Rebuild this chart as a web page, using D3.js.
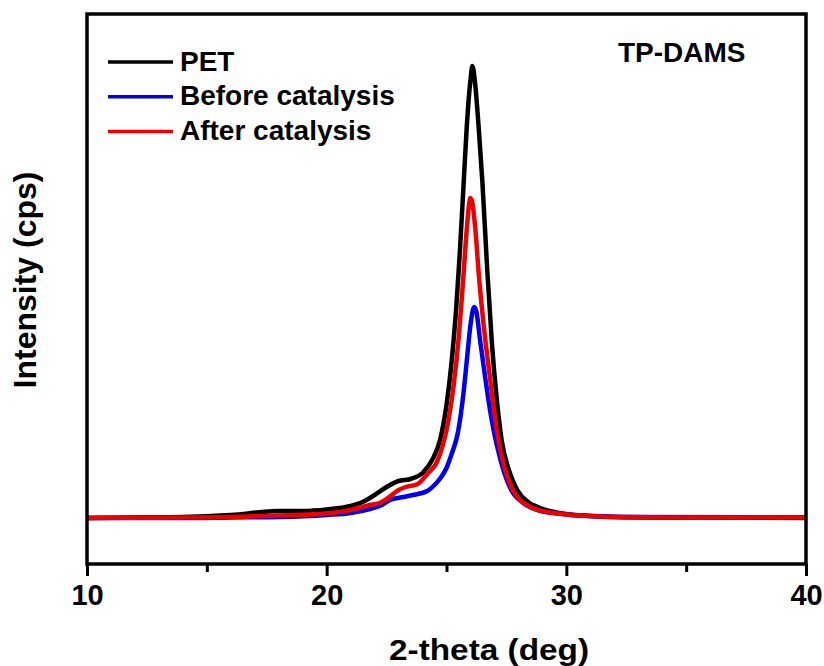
<!doctype html>
<html>
<head>
    <meta charset="utf-8">
    <title>TP-DAMS XRD</title>
    <script src="https://cdnjs.cloudflare.com/ajax/libs/d3/7.8.5/d3.min.js"></script>
    <style>
        body { margin: 0; background: #fff; }
        svg text { font-family: "Liberation Sans", Arial, sans-serif; font-weight: bold; fill: #000; }
    </style>
</head>
<body>
<svg width="824" height="666"></svg>
<script>
    // 2-theta positions and intensities (arbitrary cps)
    let petTheta = [10, 12, 14, 16, 18, 19, 20, 21, 21.5, 22, 22.5, 23, 23.5, 24, 24.4, 24.73, 25.0, 25.2, 25.4, 25.55, 25.7, 25.85, 26.0, 26.08, 26.2, 26.35, 26.5, 26.7, 26.9, 27.1, 27.3, 27.6, 27.95, 28.4, 28.8, 29.5, 30, 31, 32, 34, 40];
    let petVals  = [92, 93, 94, 98, 106, 106, 109, 116, 124, 138, 154, 166, 170, 182, 208, 248, 318, 398, 508, 618, 748, 878, 968, 996, 958, 868, 762, 588, 438, 328, 248, 188, 148, 124, 114, 104, 100, 96, 94, 93, 92];

    let beforeTheta = [10, 14, 16, 18, 20, 21, 21.8, 22.3, 22.64, 23.2, 23.6, 24.2, 24.5, 24.75, 25.0, 25.2, 25.48, 25.7, 25.85, 26.0, 26.1, 26.16, 26.25, 26.4, 26.6, 26.85, 27.1, 27.4, 27.7, 28.2, 28.8, 29.5, 30, 31, 33, 40];
    let beforeVals  = [92, 92, 93, 94, 98, 102, 110, 118, 128, 134, 138, 146, 158, 172, 192, 218, 264, 338, 408, 478, 508, 514, 504, 448, 378, 298, 238, 184, 148, 122, 108, 102, 99, 96, 94, 93];

    let afterTheta = [10, 14, 16, 18, 20, 21, 21.8, 22.2, 22.5, 23, 23.3, 23.8, 24.2, 24.6, 24.85, 25.1, 25.3, 25.5, 25.7, 25.85, 25.95, 26.0, 26.08, 26.2, 26.35, 26.55, 26.8, 27.1, 27.45, 27.77, 28.5, 29, 30, 31, 32, 35, 40];
    let afterVals  = [92, 93, 94, 97, 101, 108, 118, 122, 130, 148, 154, 160, 180, 204, 238, 292, 358, 448, 572, 672, 722, 732, 722, 672, 578, 478, 378, 268, 188, 148, 114, 106, 99, 96, 94, 93, 93];

    let seriesNames  = ["PET", "Before catalysis", "After catalysis"];
    let seriesColors = ["#000000", "#0000ee", "#ee0000"];
    let majorTicks = [10, 20, 30, 40];
    let minorTicks = [15, 25, 35];

    let series = [
        {name: seriesNames[0], color: seriesColors[0], theta: petTheta, vals: petVals},
        {name: seriesNames[1], color: seriesColors[1], theta: beforeTheta, vals: beforeVals},
        {name: seriesNames[2], color: seriesColors[2], theta: afterTheta, vals: afterVals}
    ];

    let svg = d3.select("svg");
    let plotLeft = 87, plotRight = 806, plotTop = 14, plotBottom = 564;

    let x = d3.scaleLinear().domain([10, 40]).range([plotLeft, plotRight]);
    let y = d3.scaleLinear().domain([0, 1100]).range([plotBottom, plotTop]);

    let line = d3.line()
        .x(function(d) { return x(d[0]); })
        .y(function(d) { return y(d[1]); })
        .curve(d3.curveMonotoneX);

    // curves
    let plot = svg.append("g");
    series.forEach(function(s) {
        let pts = s.theta.map(function(t, i) { return [t, s.vals[i]]; });
        plot.append("path")
            .datum(pts)
            .attr("d", line)
            .attr("fill", "none")
            .attr("stroke", s.color)
            .attr("stroke-width", 4.5)
            .attr("stroke-linejoin", "round");
    });

    // frame
    svg.append("rect")
        .attr("x", plotLeft).attr("y", plotTop)
        .attr("width", plotRight - plotLeft).attr("height", plotBottom - plotTop)
        .attr("fill", "none")
        .attr("stroke", "#000")
        .attr("stroke-width", 3.5);

    // x axis
    let xAxis = d3.axisBottom(x)
        .tickValues(majorTicks)
        .tickSize(12)
        .tickPadding(8)
        .tickFormat(d3.format("d"));

    let gx = svg.append("g")
        .attr("transform", "translate(0," + plotBottom + ")")
        .call(xAxis);
    gx.select(".domain").remove();
    gx.selectAll(".tick line").attr("stroke", "#000").attr("stroke-width", 3);
    gx.selectAll(".tick text")
        .style("font-size", "29px")
        .style("font-family", "'Liberation Sans', Arial, sans-serif")
        .style("font-weight", "bold");

    let xMinor = d3.axisBottom(x).tickValues(minorTicks).tickSize(8).tickFormat("");
    let gm = svg.append("g")
        .attr("transform", "translate(0," + plotBottom + ")")
        .call(xMinor);
    gm.select(".domain").remove();
    gm.selectAll(".tick line").attr("stroke", "#000").attr("stroke-width", 3);

    // axis titles
    svg.append("text")
        .attr("x", 489).attr("y", 660)
        .attr("text-anchor", "middle")
        .attr("textLength", 200)
        .attr("lengthAdjust", "spacingAndGlyphs")
        .style("font-size", "29px")
        .text("2-theta (deg)");

    svg.append("text")
        .attr("transform", "translate(36,280) rotate(-90)")
        .attr("text-anchor", "middle")
        .style("font-size", "32px")
        .text("Intensity (cps)");

    // sample label
    svg.append("text")
        .attr("x", 618).attr("y", 62)
        .style("font-size", "28px")
        .text("TP-DAMS");

    // legend
    let legend = svg.append("g");
    series.forEach(function(s, i) {
        let ly = 62 + i * 34.7;
        legend.append("line")
            .attr("x1", 108).attr("x2", 173)
            .attr("y1", ly).attr("y2", ly)
            .attr("stroke", s.color)
            .attr("stroke-width", 3.5);
        legend.append("text")
            .attr("x", 180).attr("y", ly + 8.5)
            .style("font-size", "28px")
            .text(s.name);
    });
</script>
</body>
</html>
